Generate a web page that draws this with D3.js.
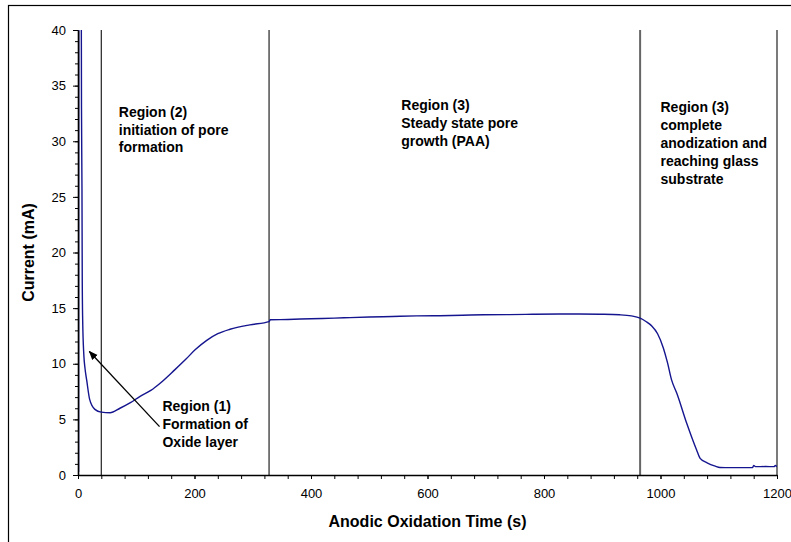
<!DOCTYPE html>
<html lang="en">
<head>
  <meta charset="UTF-8">
  <title>Anodic oxidation current</title>
  <script src="https://d3js.org/d3.v7.min.js"></script>
  <style>
    body {
      margin: 0;
      background: #fff;
      font-family: "Liberation Sans", Arial, sans-serif;
    }
    .axis-title {
      font-size: 16px;
      font-weight: bold;
    }
    .note {
      font-size: 14px;
      font-weight: bold;
    }
  </style>
</head>
<body>
  <div id="chart"></div>

  <script>
    const time = [0, 1, 1.3, 5.5, 6, 6.8, 7.3, 8, 10, 12, 15, 20, 29, 40, 55, 72, 90, 106, 125, 141,
      166, 185, 201, 221, 240, 261, 295, 328, 330, 360, 400, 440, 467, 500, 540, 581, 620, 660, 696,
      740, 780, 827, 860, 896, 930, 950, 965, 975, 985, 995, 1005, 1012, 1019, 1028, 1045, 1062,
      1068, 1080, 1094, 1102, 1120, 1140, 1158, 1160, 1163, 1180, 1195, 1197, 1200];
    const current = [0.2, 0.3, 45, 45, 33, 26, 17.5, 14, 10.8, 9.6, 8.5, 6.8, 5.9, 5.65, 5.6, 6.0,
      6.5, 7.05, 7.6, 8.25, 9.45, 10.4, 11.25, 12.1, 12.7, 13.1, 13.5, 13.78, 13.95, 13.98, 14.05,
      14.1, 14.15, 14.2, 14.25, 14.3, 14.32, 14.36, 14.4, 14.42, 14.45, 14.47, 14.47, 14.45, 14.4,
      14.3, 14.1, 13.8, 13.4, 12.7, 11.4, 10.1, 8.55, 7.35, 4.65, 2.25, 1.5, 1.1, 0.8, 0.68, 0.66,
      0.66, 0.66, 0.85, 0.75, 0.76, 0.75, 0.85, 0.75];

    // region boundaries (s)
    const boundaries = [40, 328, 965, 1200];

    const xTicks = [0, 200, 400, 600, 800, 1000, 1200];
    const yTicks = [0, 5, 10, 15, 20, 25, 30, 35, 40];

    // region labels: anchor time / current, then the lines of text
    const noteTime = [70, 555, 1000, 145];
    const noteCurrent = [32.2, 32.8, 32.6, 5.75];
    const noteLines = [
      ["Region (2)", "initiation of pore", "formation"],
      ["Region (3)", "Steady state pore", "growth (PAA)"],
      ["Region (3)", "complete", "anodization and", "reaching glass", "substrate"],
      ["Region (1)", "Formation of", "Oxide layer"]
    ];

    // arrow for region (1): from -> to
    const arrowFrom = [140, 4.35];
    const arrowTo = [19.5, 11.1];

    const W = 791, H = 542;
    const margin = { top: 30, right: 14, bottom: 67, left: 78 };
    const width = W - margin.left - margin.right;
    const height = H - margin.top - margin.bottom;

    const svg = d3.select("#chart").append("svg")
      .attr("width", W)
      .attr("height", H);

    // outer frame (runs off the right and bottom edge like the original)
    svg.append("rect")
      .attr("x", 8.5).attr("y", 5.5)
      .attr("width", 900).attr("height", 700)
      .attr("fill", "none").attr("stroke", "#000").attr("stroke-width", 1.2);

    const g = svg.append("g")
      .attr("transform", "translate(" + margin.left + "," + margin.top + ")");

    const x = d3.scaleLinear().domain([0, 1200]).range([0, width]);
    const y = d3.scaleLinear().domain([0, 40]).range([height, 0]);

    g.append("clipPath").attr("id", "plot-clip")
      .append("rect").attr("x", 0).attr("y", 0).attr("width", width).attr("height", height);

    // vertical region lines
    g.selectAll(".boundary")
      .data(boundaries)
      .enter().append("line")
      .attr("class", "boundary")
      .attr("x1", d => x(d)).attr("x2", d => x(d))
      .attr("y1", y(40)).attr("y2", y(0))
      .attr("stroke", d => d === 965 ? "#666" : "#222")
      .attr("stroke-width", d => d === 965 ? 2 : 1.2);

    // curve
    const points = time.map((t, i) => [t, current[i]]);
    g.append("path")
      .datum(points)
      .attr("clip-path", "url(#plot-clip)")
      .attr("fill", "none")
      .attr("stroke", "#15158f")
      .attr("stroke-width", 1.4)
      .attr("d", d3.line().curve(d3.curveMonotoneX).x(d => x(d[0])).y(d => y(d[1])));

    // minor ticks
    g.append("g")
      .attr("transform", "translate(0," + height + ")")
      .call(d3.axisBottom(x).tickValues(d3.range(0, 1201, 40)).tickSize(4).tickFormat(""))
      .call(a => a.select(".domain").remove());
    g.append("g")
      .call(d3.axisLeft(y).tickValues(d3.range(0, 41, 1)).tickSize(3).tickFormat(""))
      .call(a => a.select(".domain").remove());

    // main axes
    g.append("g")
      .attr("transform", "translate(0," + height + ")")
      .call(d3.axisBottom(x).tickValues(xTicks).tickFormat(d3.format("d"))
        .tickSize(4).tickPadding(10).tickSizeOuter(0))
      .call(a => a.select(".domain").attr("stroke-width", 1.6));
    g.append("g")
      .call(d3.axisLeft(y).tickValues(yTicks).tickSize(5).tickPadding(7).tickSizeOuter(0))
      .call(a => a.select(".domain").attr("stroke-width", 1.6));

    g.selectAll(".tick text")
      .style("font-family", "'Liberation Sans', Arial, sans-serif")
      .style("font-size", "13px")
      .style("fill", "#000");

    // axis titles
    svg.append("text")
      .attr("class", "axis-title")
      .attr("x", margin.left + width / 2)
      .attr("y", 527)
      .attr("text-anchor", "middle")
      .text("Anodic Oxidation Time (s)");

    svg.append("text")
      .attr("class", "axis-title")
      .attr("transform", "translate(34," + (margin.top + height / 2) + ") rotate(-90)")
      .attr("text-anchor", "middle")
      .text("Current  (mA)");

    // region labels
    noteLines.forEach((lines, i) => {
      const t = g.append("text")
        .attr("class", "note")
        .attr("x", x(noteTime[i]))
        .attr("y", y(noteCurrent[i]));
      lines.forEach((s, j) => {
        t.append("tspan")
          .attr("x", x(noteTime[i]))
          .attr("dy", j === 0 ? 0 : 17.8)
          .text(s);
      });
    });

    // arrow
    svg.append("defs").append("marker")
      .attr("id", "head")
      .attr("viewBox", "0 0 10 10")
      .attr("refX", 9).attr("refY", 5)
      .attr("markerWidth", 7).attr("markerHeight", 7)
      .attr("orient", "auto")
      .append("path")
      .attr("d", "M0,1 L10,5 L0,9 Z")
      .attr("fill", "#000");

    g.append("line")
      .attr("x1", x(arrowFrom[0])).attr("y1", y(arrowFrom[1]))
      .attr("x2", x(arrowTo[0])).attr("y2", y(arrowTo[1]))
      .attr("stroke", "#000")
      .attr("stroke-width", 1.3)
      .attr("marker-end", "url(#head)");
  </script>
</body>
</html>
